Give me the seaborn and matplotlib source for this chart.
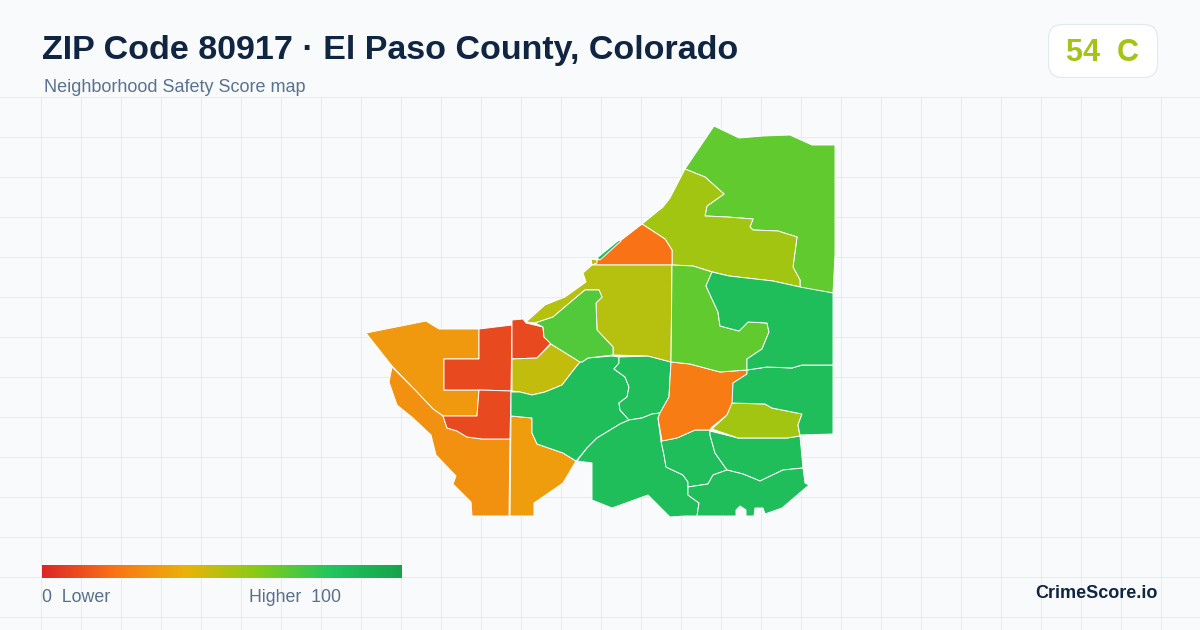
import numpy as np
import matplotlib
matplotlib.use('Agg')
import matplotlib.pyplot as plt
from matplotlib.patches import FancyBboxPatch
import seaborn as sns

west_fan = [(366,333),(426,321),(439,329),(479,329),(479,359),(462,359),(444,359),(444,390),(479,390),(477,416),(443,416),(433,409),(415,390),(392,366)]
southwest = [(392,367),(389,382),(397,405),(413,418),(431,435),(436,455),(456,476),(453,484),(471,502),(472,516),(509,516),(510,439),(482,439),(467,437),(457,431),(447,428),(443,416),(433,409),(415,390)]
red_upper = [(479,329),(512,325),(511,391),(479,390),(444,390),(444,359),(462,359),(479,359)]
red_lower = [(479,390),(511,391),(510,439),(482,439),(467,437),(457,431),(447,428),(443,416),(477,416)]
red_small = [(512,320),(523,319),(526,323),(543,327),(544,337),(551,343),(537,358),(512,359)]
olive_west = [(512,359),(537,358),(551,344),(580,362),(572,372),(562,385),(545,392),(532,395),(520,392),(512,391)]
orange_south = [(511,416),(532,418),(532,433),(537,444),(563,453),(576,461),(563,483),(534,503),(534,516),(510,516)]
green_west = [(511,392),(520,392),(532,395),(545,392),(562,385),(572,372),(580,362),(582,362),(588,358),(612,356),(619,357),(619,363),(614,369),(625,377),(629,387),(627,397),(619,403),(620,410),(629,420),(620,424),(597,438),(587,448),(577,460),(576,461),(563,453),(537,444),(532,433),(532,418),(511,416)]
green_mid = [(619,357),(648,356),(671,362),(669,397),(660,413),(652,414),(642,418),(629,420),(620,410),(619,403),(627,397),(629,387),(625,377),(614,369),(619,363)]
green_south = [(629,420),(642,418),(652,414),(660,413),(658,418),(661,441),(664,455),(666,467),(683,475),(688,482),(688,495),(699,503),(697,516),(685,516),(670,517),(648,495),(612,508),(592,500),(592,463),(577,461),(587,448),(597,438),(620,424)]
green_center = [(661,441),(677,438),(695,430),(710,430),(710,435),(715,453),(727,470),(713,475),(708,484),(688,487),(688,482),(683,475),(666,467),(664,455)]
green_east_s = [(710,431),(738,438),(787,438),(800,436),(803,468),(783,470),(760,481),(743,474),(727,470),(715,453),(710,435)]
green_bottom = [(727,470),(743,474),(760,481),(783,470),(803,468),(805,483),(809,485),(782,508),(765,514),(763,508),(755,508),(754,516),(746,516),(746,510),(740,506),(736,510),(736,516),(697,516),(699,503),(688,495),(688,487),(708,484),(713,475)]
orange_center = [(671,362),(690,364),(720,372),(747,370),(747,374),(733,383),(733,402),(727,415),(712,427),(710,430),(695,430),(677,438),(662,441),(658,418),(660,413),(669,397)]
olive_small = [(732,403),(765,404),(772,408),(802,414),(798,425),(800,436),(787,438),(738,438),(712,429),(727,415)]
green_east = [(747,370),(767,367),(792,368),(802,365),(833,365),(833,434),(800,435),(798,425),(802,414),(772,408),(765,404),(732,403),(733,383),(747,374)]
north_east = [(714,126),(739,138),(763,136),(790,135),(812,145),(835,145),(835,255),(833,293),(800,288),(800,280),(793,267),(797,237),(778,231),(753,230),(750,227),(753,219),(727,217),(705,216),(707,206),(724,194),(705,177),(685,169)]
olive_north = [(685,169),(705,177),(724,194),(707,206),(705,216),(727,217),(753,219),(750,227),(753,230),(778,231),(797,237),(793,267),(800,280),(800,287),(773,281),(729,276),(713,272),(693,266),(672,265),(672,250),(665,239),(642,224),(663,207),(670,198)]
orange_top = [(642,224),(665,239),(672,250),(672,265),(592,265),(620,241)]
sliver = [(597,258),(619,240),(621,241),(600,260)]
nub = [(591,259),(597,260),(597,263),(592,265)]
olive_large = [(592,265),(672,265),(671,362),(648,356),(613,355),(613,347),(597,330),(596,303),(602,297),(599,290),(585,290),(573,300),(553,317),(535,323),(526,322),(545,305),(565,297),(586,282),(583,273)]
lime_small = [(535,323),(553,317),(573,300),(585,290),(599,290),(602,297),(596,303),(597,330),(613,347),(613,355),(588,358),(582,362),(580,362),(551,344),(544,337),(543,327)]
lime_mid = [(672,265),(693,266),(712,272),(706,286),(718,312),(720,326),(739,331),(748,322),(767,323),(769,332),(762,349),(747,359),(747,370),(720,372),(690,364),(671,362)]
green_upper = [(712,272),(729,276),(773,281),(800,287),(833,293),(833,365),(802,365),(792,368),(767,367),(747,370),(747,359),(762,349),(769,332),(767,323),(748,322),(739,331),(720,326),(718,312),(706,286)]

neighborhoods = [west_fan, southwest, red_upper, red_lower, red_small, olive_west, orange_south,
                 green_west, green_mid, green_south, green_center, green_east_s, green_bottom,
                 orange_center, olive_small, green_east, north_east, olive_north, orange_top,
                 sliver, nub, olive_large, lime_small, lime_mid, green_upper]
scores = [32, 29, 9, 9, 9, 48, 33,
          84, 84, 84, 84, 84, 84,
          23, 54, 84, 67, 54, 20,
          84, 50, 50, 70, 67, 84]

# Legend scale
scale_stops = ['#dc2626', '#f97316', '#eab308', '#84cc16', '#22c55e', '#16a34a']
grade_score = '54  C'
title = 'ZIP Code 80917 · El Paso County, Colorado'
subtitle = 'Neighborhood Safety Score map'

sns.set_theme(style='whitegrid', rc={
    'figure.facecolor': '#f8fafc',
    'axes.facecolor': '#f8fafc',
    'grid.color': '#e3ecf1',
    'grid.linewidth': 0.72,
})
plt.rcParams['font.family'] = ['Liberation Sans', 'DejaVu Sans']

cmap = sns.blend_palette(scale_stops, as_cmap=True)

fig = plt.figure(figsize=(12, 6.3), dpi=100)

# Map area with the background grid, below the header
ax = fig.add_axes([0, 0, 1, 534 / 630])
ax.set_xlim(0, 1200)
ax.set_ylim(630, 96)
ax.set_xticks(np.arange(40.5, 1200, 40))
ax.set_yticks(np.arange(96.5, 630, 40))
ax.tick_params(length=0, labelbottom=False, labelleft=False)
ax.set_axisbelow(True)
sns.despine(ax=ax, left=True, bottom=True)

for shape, score in zip(neighborhoods, scores):
    xs, ys = zip(*shape)
    ax.fill(xs, ys, facecolor=cmap(score / 100), edgecolor='white', linewidth=0.7, joinstyle='round')

# Header text
fig.text(42 / 1200, 1 - 51 / 630, title, fontsize=24.5, fontweight='bold', color='#0f2542', va='center')
fig.text(44 / 1200, 1 - 87 / 630, subtitle, fontsize=12.95, color='#5a7291', va='center')

# Grade badge
overlay = fig.add_axes([0, 0, 1, 1], facecolor='none')
overlay.set_xlim(0, 1200)
overlay.set_ylim(630, 0)
overlay.axis('off')
overlay.add_patch(FancyBboxPatch((1060, 36), 86, 30, boxstyle='round,pad=11.5,rounding_size=14',
                                 facecolor='white', edgecolor='#e2e8f0', linewidth=0.8))
overlay.text(1103, 53, grade_score, fontsize=22, fontweight='bold', color='#a3c414', ha='center', va='center')

# Legend bar
leg = fig.add_axes([42 / 1200, 1 - 578 / 630, 360 / 1200, 13 / 630])
sns.heatmap(np.linspace(0, 100, 360).reshape(1, -1), cmap=cmap, vmin=0, vmax=100, cbar=False,
            xticklabels=False, yticklabels=False, ax=leg)
fig.text(42 / 1200, 1 - 598 / 630, '0  Lower', fontsize=12.8, color='#5a6f8c', va='center')
fig.text(249 / 1200, 1 - 598 / 630, 'Higher  100', fontsize=12.8, color='#5a6f8c', va='center')
fig.text(1158 / 1200, 1 - 594 / 630, 'CrimeScore.io', fontsize=13, fontweight='bold', color='#0f2542', ha='right', va='center')

fig.savefig('out.png', dpi=100, facecolor=fig.get_facecolor())
